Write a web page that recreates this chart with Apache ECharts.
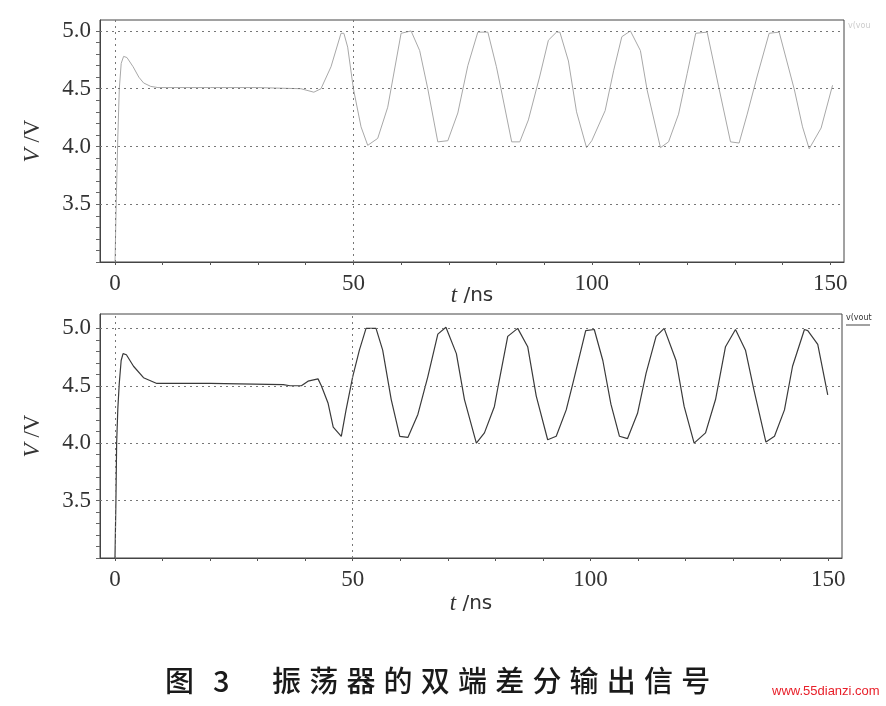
<!DOCTYPE html>
<html><head><meta charset="utf-8">
<script src="https://cdn.jsdelivr.net/npm/echarts@6/dist/echarts.min.js"></script>
<style>html,body{margin:0;padding:0;background:#fff}#c{width:886px;height:706px}</style>
</head><body><div id="c"></div>
<script>
// ---- data ----
const timeTop = [0,0.3,0.6,0.9,1.3,1.8,2.5,3.8,5,6,7.5,9,20,30,39,41.7,43.2,45.3,47.4,48,48.8,50,51.6,53,55.1,57.2,60,62.1,63.9,65.6,67.7,69.8,71.9,74,76.1,78.2,80,81,83.2,84.9,86.7,89.1,90.9,92.6,93.3,95.1,96.8,98.9,100,102.8,104.6,106.3,108.1,110.2,111.6,114.4,116.1,118.2,120,121.8,124.2,126.7,129.1,130.9,132.6,134.7,137.2,139.3,142.5,144.2,145.6,148.1,150.5];
const voltTop = [3.0,3.6,4.1,4.5,4.72,4.78,4.77,4.69,4.6,4.55,4.52,4.51,4.51,4.51,4.5,4.47,4.5,4.69,4.98,4.98,4.86,4.5,4.17,4.01,4.07,4.34,4.98,5.0,4.83,4.5,4.04,4.05,4.29,4.7,4.99,4.99,4.69,4.49,4.04,4.04,4.23,4.61,4.92,4.99,4.99,4.74,4.3,3.99,4.05,4.31,4.66,4.95,5.0,4.83,4.49,3.99,4.04,4.28,4.63,4.98,4.99,4.5,4.04,4.03,4.28,4.61,4.98,4.99,4.49,4.17,3.98,4.16,4.53];
const timeBottom = [0,0.2,0.35,0.6,0.9,1.3,1.7,2.4,3.9,6,8.8,20,35.4,36.8,39.2,40.6,42.7,43.4,44.8,45.9,47.6,48.6,50,51.4,52.8,54.9,56.3,58.1,59.9,61.6,63.7,65.8,67.9,69.6,71.8,73.5,76,77.7,79.8,80.6,82.6,84.7,86.8,88.6,91,92.8,94.9,96.3,99,100.8,102.6,104.3,106.1,107.8,109.9,111.7,113.8,115.5,118,119.7,121.8,124.2,126.3,128.4,130.5,132.6,134.4,136.9,138.7,140.8,142.5,145,145.7,147.8,149.9];
const voltBottom = [3.0,3.5,4.0,4.3,4.52,4.72,4.78,4.77,4.67,4.57,4.52,4.52,4.51,4.5,4.5,4.54,4.56,4.5,4.35,4.14,4.06,4.29,4.58,4.81,5.0,5.0,4.81,4.38,4.06,4.05,4.25,4.58,4.95,5.01,4.78,4.38,4.0,4.09,4.32,4.5,4.93,5.0,4.84,4.41,4.03,4.06,4.29,4.52,4.98,4.99,4.72,4.34,4.06,4.04,4.26,4.61,4.93,5.0,4.72,4.32,4.0,4.09,4.38,4.84,4.99,4.81,4.46,4.01,4.06,4.29,4.67,4.99,4.98,4.86,4.42];
const xTickValues = [0,10,20,30,40,50,60,70,80,90,100,110,120,130,140,150];
const xLabelValues = [0,50,100,150];
const yTickValues = [3.0,3.1,3.2,3.3,3.4,3.5,3.6,3.7,3.8,3.9,4.0,4.1,4.2,4.3,4.4,4.5,4.6,4.7,4.8,4.9,5.0];
const yLabelValues = [3.5,4.0,4.5,5.0];
const xGridValues = [0,50];
const caption = ['图','3','振','荡','器','的','双','端','差','分','输','出','信','号'];
const seriesNames = ['v(vou', 'v(vout'];
// ---------------------------------------

const chart = echarts.init(document.getElementById('c'), null, {renderer:'canvas'});
const zip = (a,b) => a.map((t,i)=>[t,b[i]]);
const serif = '"Liberation Serif","Times New Roman",serif';

function xAxis(idx){
  return {
    type:'value', gridIndex:idx, min:-3.15, max:152.9,
    axisLine:{show:true, onZero:false, lineStyle:{color:'#444', width:1}},
    axisTick:{show:true, length:3, customValues:xTickValues, lineStyle:{color:'#555'}},
    axisLabel:{customValues:xLabelValues, color:'#333', fontFamily:serif, fontSize:23, margin:10},
    splitLine:{show:false},
    name:'{i|t} /ns', nameLocation:'middle', nameGap: idx===0 ? 22 : 34, nameMoveOverlap:false,
    nameTextStyle:{fontFamily:'"DejaVu Sans","Liberation Sans",sans-serif', fontSize:20, color:'#333',
      rich:{i:{fontFamily:serif, fontStyle:'italic', fontSize:23, color:'#333'}}}
  };
}
function yAxis(idx, max){
  return {
    type:'value', gridIndex:idx, min:3.0, max:max,
    axisLine:{show:true, onZero:false, lineStyle:{color:'#444', width:1}},
    axisTick:{show:true, length:4, customValues:yTickValues, lineStyle:{color:'#666'}},
    axisLabel:{customValues:yLabelValues, formatter:v=>v.toFixed(1), color:'#333', fontFamily:serif, fontSize:23, margin:9},
    splitLine:{show:false},
    name:'{i|V} /V', nameLocation:'middle', nameGap:56, nameRotate:90, nameMoveOverlap:false,
    nameTextStyle:{fontFamily:serif, fontSize:23, color:'#333',
      rich:{i:{fontFamily:serif, fontStyle:'italic', fontSize:23, color:'#333'}}}
  };
}
function gridMarks(){
  return {
    silent:true, symbol:'none', animation:false,
    label:{show:false},
    lineStyle:{type:[2,4], color:'#777', width:1},
    data: yLabelValues.map(v=>({yAxis:v})).concat(xGridValues.map(v=>({xAxis:v})))
  };
}

const capItems = [];
let cx = 165;
caption.forEach((ch,i)=>{
  capItems.push({type:'text', left: cx, top: 666,
    style:{text:ch, font:'500 29px "Noto Sans CJK SC"', fill:'#1a1a1a'}});
  cx += (i===0) ? 48 : (i===1 ? 59 : 37.2);
});

chart.setOption({
  animation:false,
  backgroundColor:'#fff',
  grid:[
    {left:100, top:20, width:744, height:242, show:true, borderColor:'#444', borderWidth:1, backgroundColor:'transparent'},
    {left:100, top:314, width:742, height:244, show:true, borderColor:'#444', borderWidth:1, backgroundColor:'transparent'}
  ],
  xAxis:[xAxis(0), xAxis(1)],
  yAxis:[yAxis(0,5.095), yAxis(1,5.125)],
  series:[
    {type:'line', name:seriesNames[0], xAxisIndex:0, yAxisIndex:0, data:zip(timeTop,voltTop), showSymbol:false,
      lineStyle:{color:'#a8a8a8', width:1}, clip:true, markLine:gridMarks()},
    {type:'line', name:seriesNames[1], xAxisIndex:1, yAxisIndex:1, data:zip(timeBottom,voltBottom), showSymbol:false,
      lineStyle:{color:'#3a3a3a', width:1.2}, clip:true, markLine:gridMarks()}
  ],
  graphic: capItems.concat([
    {type:'text', left:848, top:22, style:{text:seriesNames[0], font:'8px "DejaVu Sans"', fill:'#ccc'}},
    {type:'text', left:846, top:314, style:{text:seriesNames[1], font:'8px "DejaVu Sans"', fill:'#333'}},
    {type:'line', shape:{x1:846,y1:325,x2:870,y2:325}, style:{stroke:'#444', lineWidth:1}},
    {type:'text', left:772, top:685, style:{text:'www.55dianzi.com', font:'13px "Liberation Sans Narrow","Liberation Sans",sans-serif', fill:'#e8202a'}}
  ])
});
</script></body></html>
